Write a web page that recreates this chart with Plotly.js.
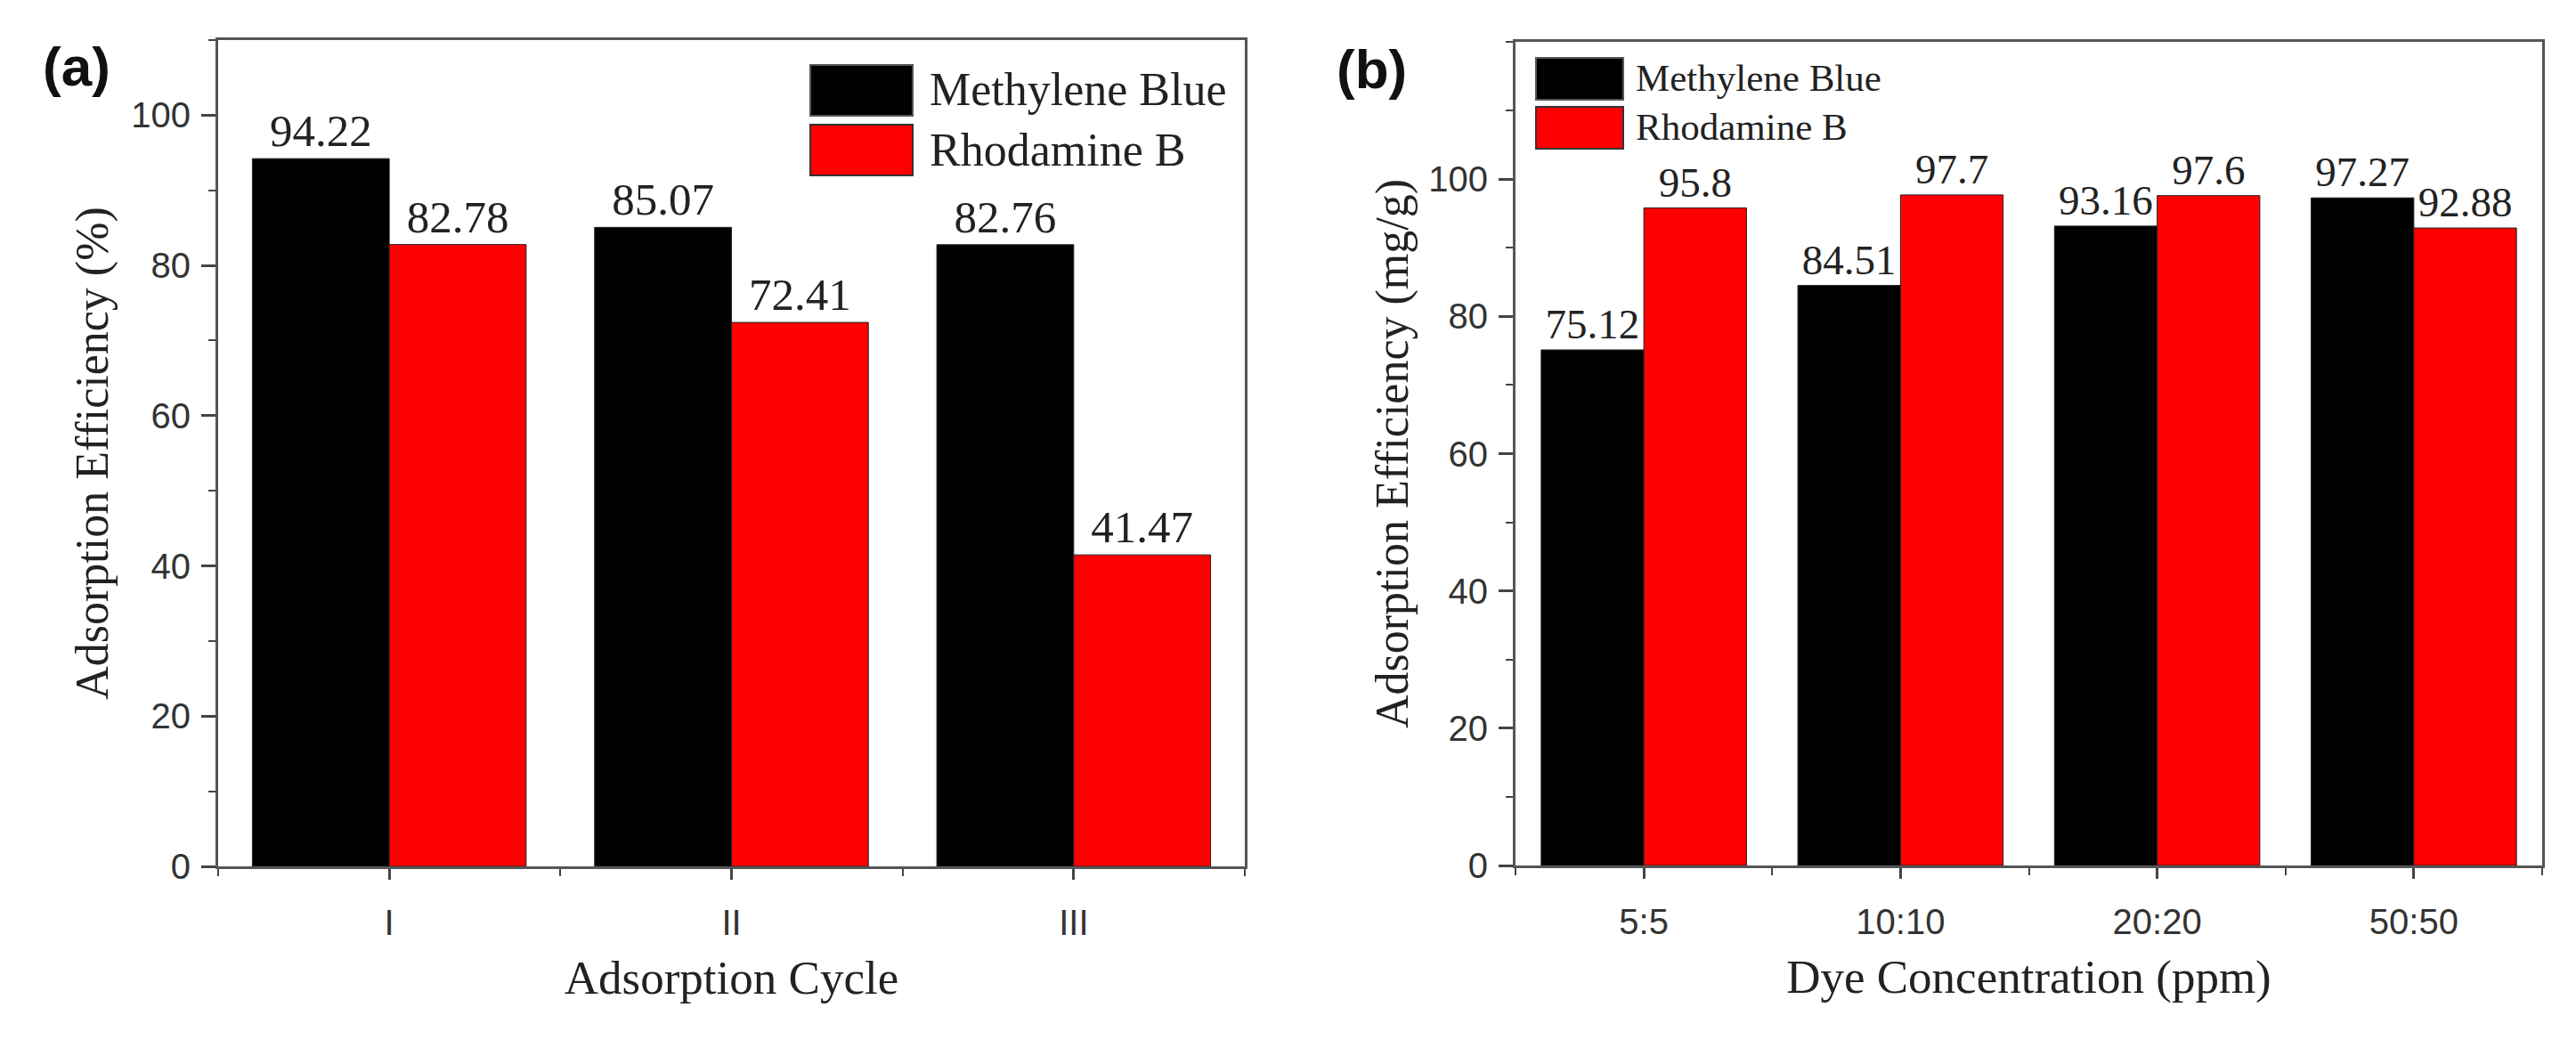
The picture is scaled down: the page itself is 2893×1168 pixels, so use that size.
<!DOCTYPE html>
<html>
<head>
<meta charset="utf-8">
<script src="https://cdn.plot.ly/plotly-3.0.1.min.js"></script>
<style>
  html, body { margin: 0; padding: 0; background: #ffffff; }
  #chart { width: 2893px; height: 1168px; }
</style>
</head>
<body>
<div id="chart"></div>
<script>
// ---------- data ----------
const seriesNames = ['Methylene Blue', 'Rhodamine B'];

const cycles = ['I', 'II', 'III'];
const mbCycle = [94.22, 85.07, 82.76];
const rbCycle = [82.78, 72.41, 41.47];

const concentrations = ['5:5', '10:10', '20:20', '50:50'];
const mbConc = [75.12, 84.51, 93.16, 97.27];
const rbConc = [95.8, 97.7, 97.6, 92.88];

const yTickVals = [0, 20, 40, 60, 80, 100];

// ---------- styles ----------
const W = 2893, H = 1168;
const SERIF = '"Liberation Serif", "Times New Roman", serif';
const SANS = '"Liberation Sans", Arial, sans-serif';
const BOLD_SANS = '"Liberation Sans", Arial, sans-serif';
const MB_COLOR = '#000000';
const RB_COLOR = '#ff0000';
const AXIS_COLOR = '#555555';
const TICK_COLOR = '#444444';
const TEXT_COLOR = '#222222';
const TICKLABEL_COLOR = '#333333';

const idxCycles = cycles.map((c, i) => i);
const idxConc = concentrations.map((c, i) => i);

function barTrace(xIdx, yVals, name, color, xa, ya, fontSize) {
  return {
    type: 'bar',
    x: xIdx,
    y: yVals,
    name: name,
    xaxis: xa,
    yaxis: ya,
    marker: { color: color, line: { color: '#222222', width: 1 } },
    text: yVals.map(v => String(v)),
    textposition: 'outside',
    textfont: { family: SERIF, size: fontSize, color: TEXT_COLOR },
    constraintext: 'none',
    cliponaxis: false,
    showlegend: false,
    hoverinfo: 'x+y'
  };
}

const data = [
  barTrace(idxCycles, mbCycle, seriesNames[0], MB_COLOR, 'x', 'y', 51),
  barTrace(idxCycles, rbCycle, seriesNames[1], RB_COLOR, 'x', 'y', 51),
  barTrace(idxConc, mbConc, seriesNames[0], MB_COLOR, 'x2', 'y2', 47),
  barTrace(idxConc, rbConc, seriesNames[1], RB_COLOR, 'x2', 'y2', 47)
];

function xAxis(domain, anchor, n, labels, title) {
  return {
    domain: domain,
    anchor: anchor,
    type: 'linear',
    range: [-0.5, n - 0.5],
    tickmode: 'array',
    tickvals: labels.map((c, i) => i),
    ticktext: labels,
    ticks: 'outside',
    ticklen: 12,
    tickwidth: 3,
    tickcolor: TICK_COLOR,
    ticklabelstandoff: 14,
    minor: { tickmode: 'linear', tick0: 0.5, dtick: 1, ticks: 'outside', ticklen: 8, tickwidth: 2, tickcolor: TICK_COLOR, showgrid: false },
    showline: true,
    linecolor: AXIS_COLOR,
    linewidth: 3,
    mirror: true,
    showgrid: false,
    zeroline: false,
    fixedrange: true,
    tickfont: { family: SANS, size: 40, color: TICKLABEL_COLOR },
    title: { text: title, font: { family: SERIF, size: 53, color: TEXT_COLOR }, standoff: 22 }
  };
}

function yAxis(domain, anchor, top, title, standoff) {
  return {
    domain: domain,
    anchor: anchor,
    range: [0, top],
    tickmode: 'array',
    tickvals: yTickVals,
    ticks: 'outside',
    ticklen: 16,
    tickwidth: 3,
    tickcolor: TICK_COLOR,
    ticklabelstandoff: 4,
    minor: { tickmode: 'linear', tick0: 0, dtick: 10, ticks: 'outside', ticklen: 8, tickwidth: 2, tickcolor: TICK_COLOR, showgrid: false },
    showline: true,
    linecolor: AXIS_COLOR,
    linewidth: 3,
    mirror: true,
    showgrid: false,
    zeroline: false,
    fixedrange: true,
    tickfont: { family: SANS, size: 40, color: TICKLABEL_COLOR },
    title: { text: title, font: { family: SERIF, size: 52, color: TEXT_COLOR }, standoff: standoff }
  };
}

const px = v => v / W;
const py = v => 1 - v / H;

function legendShapes(x0, x1, rows) {
  const colors = [MB_COLOR, RB_COLOR];
  return rows.map((r, i) => ({
    type: 'rect', xref: 'paper', yref: 'paper', layer: 'above',
    x0: px(x0), x1: px(x1), y0: py(r[1]), y1: py(r[0]),
    fillcolor: colors[i],
    line: { color: i === 0 ? '#555555' : '#333333', width: 2 }
  }));
}

function legendTexts(x, ys, size) {
  return ys.map((y, i) => ({
    xref: 'paper', yref: 'paper', x: px(x), y: py(y),
    xanchor: 'left', yanchor: 'middle', showarrow: false,
    text: seriesNames[i],
    font: { family: SERIF, size: size, color: TEXT_COLOR }
  }));
}

const layout = {
  width: W,
  height: H,
  margin: { l: 0, r: 0, t: 0, b: 0, pad: 0 },
  paper_bgcolor: '#ffffff',
  plot_bgcolor: '#ffffff',
  barmode: 'group',
  bargap: 0.2,
  bargroupgap: 0,
  showlegend: false,
  xaxis: xAxis([px(245), px(1398)], 'y', cycles.length, cycles, 'Adsorption Cycle'),
  yaxis: yAxis([py(973), py(45)], 'x', 110, 'Adsorption Efficiency (%)', 10),
  xaxis2: xAxis([px(1702), px(2855)], 'y2', concentrations.length, concentrations, 'Dye Concentration (ppm)'),
  yaxis2: yAxis([py(972), py(47)], 'x2', 120, 'Adsorption Efficiency (mg/g)', 7),
  shapes: [].concat(
    legendShapes(910, 1025, [[73, 130], [140, 197]]),
    legendShapes(1725, 1823, [[65, 112], [120, 167]])
  ),
  annotations: [].concat(
    legendTexts(1042, [101, 168], 52),
    legendTexts(1835, [88, 143], 43),
    [
      { xref: 'paper', yref: 'paper', x: px(86), y: py(75), xanchor: 'center', yanchor: 'middle', showarrow: false,
        text: '<b>(a)</b>', font: { family: BOLD_SANS, size: 62, color: '#111111' } },
      { xref: 'paper', yref: 'paper', x: px(1540), y: py(77), xanchor: 'center', yanchor: 'middle', showarrow: false,
        text: '<b>(b)</b>', font: { family: BOLD_SANS, size: 62, color: '#111111' } }
    ]
  )
};

Plotly.newPlot('chart', data, layout, { displayModeBar: false, staticPlot: true });
</script>
</body>
</html>
